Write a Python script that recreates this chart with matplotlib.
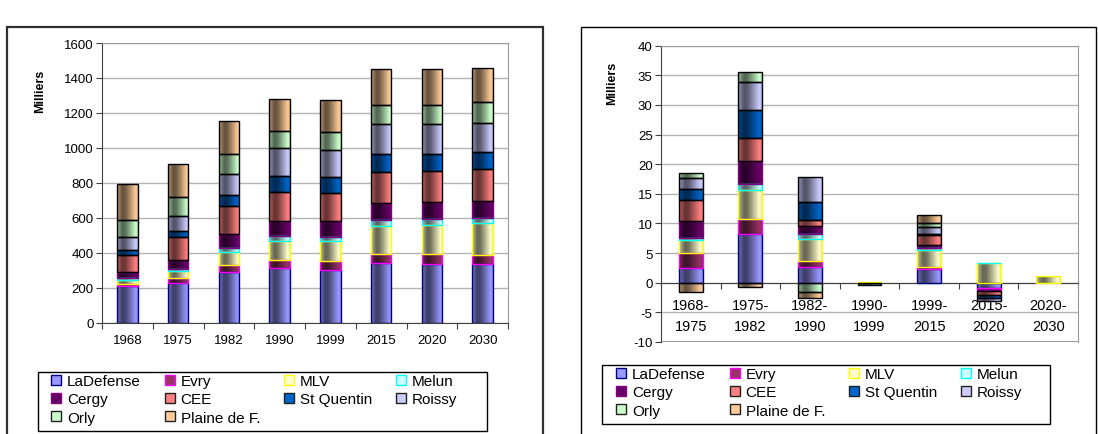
import matplotlib
matplotlib.use("Agg")
import matplotlib.pyplot as plt
import numpy as np
from matplotlib.patches import Patch, Rectangle
from matplotlib.colors import to_rgb

plt.rcParams['font.family'] = ['Liberation Sans', 'DejaVu Sans']
plt.rcParams['axes.unicode_minus'] = False

# Series (same order in both charts)
series_names = ['LaDefense', 'Evry', 'MLV', 'Melun', 'Cergy', 'CEE',
                'St Quentin', 'Roissy', 'Orly', 'Plaine de F.']
face_colors = ['#9999FF', '#993366', '#FFFFCC', '#CCFFFF', '#660066',
               '#FF8080', '#0066CC', '#CCCCFF', '#CCFFCC', '#FFCC99']
edge_colors = ['#000080', '#FF00FF', '#FFFF00', '#00FFFF', '#800080',
               'black', 'black', 'black', 'black', 'black']

# Left chart: employment by pole (thousands)
years = ['1968', '1975', '1982', '1990', '1999', '2015', '2020', '2030']
stock = {
    'LaDefense':    [212, 225, 288, 313, 303, 342, 334, 334],
    'Evry':         [7, 31, 44, 46, 52, 52, 57, 53],
    'MLV':          [27, 42, 75, 110, 115, 162, 170, 183],
    'Melun':        [8, 9, 21, 29, 21, 29, 31, 27],
    'Cergy':        [34, 54, 82, 82, 88, 99, 97, 97],
    'CEE':          [101, 131, 156, 170, 164, 177, 179, 183],
    'St Quentin':   [29, 31, 63, 90, 88, 103, 95, 101],
    'Roissy':       [74, 86, 124, 158, 158, 172, 172, 164],
    'Orly':         [96, 112, 111, 101, 101, 109, 109, 120],
    'Plaine de F.': [204, 189, 191, 182, 183, 206, 206, 195],
}

# Right chart: yearly change per period (thousands)
periods = ['1968-\n1975', '1975-\n1982', '1982-\n1990', '1990-\n1999',
           '1999-\n2015', '2015-\n2020', '2020-\n2030']
change = {
    'LaDefense':    [2.5, 8.2, 2.7, 0, 2.4, -0.95, 0],
    'Evry':         [2.6, 2.5, 1.0, 0, 0.2, -0.35, 0],
    'MLV':          [2.1, 4.9, 3.6, 0.05, 3.0, 3.3, 1.2],
    'Melun':        [0.4, 1.1, 1.0, 0, 0.2, 0.05, 0],
    'Cergy':        [2.9, 3.8, 1.2, 0, 0.6, -0.1, 0],
    'CEE':          [3.4, 4.0, 1.1, 0, 1.6, -0.65, 0],
    'St Quentin':   [2.0, 4.7, 3.0, -0.4, 0.3, -0.45, 0],
    'Roissy':       [1.7, 4.7, 4.2, 0, 1.1, -0.55, 0],
    'Orly':         [1.0, 1.6, -1.6, 0, 0.6, 0, 0],
    'Plaine de F.': [-1.6, -0.7, -1.0, 0, 1.5, 0, 0],
}

GRID = '#B4B4B4'
FRAME = '#9A9A9A'


def gradient_image(color):
    # Excel-like horizontal gradient: light edge, dark band, light band
    t = np.linspace(0, 1, 64)
    shade = np.interp(t, [0, 0.25, 0.4, 0.9, 1], [0.75, 0.4, 0.45, 1.0, 0.9])
    rgb = np.array(to_rgb(color))
    return (shade[:, None] * rgb[None, :])[None, :, :]


def stacked_bars(ax, data, width=0.4):
    x = np.arange(len(next(iter(data.values()))))
    pos = np.zeros(len(x))
    neg = np.zeros(len(x))
    for name, fc, ec in zip(series_names, face_colors, edge_colors):
        v = np.array(data[name], dtype=float)
        bottom = np.where(v >= 0, pos, neg)
        lw = np.where(v != 0, 1.0, 0.0)
        bars = ax.bar(x, v, width, bottom=bottom, color=fc, edgecolor='none',
                      linewidth=0, zorder=2)
        img = gradient_image(fc)
        for p, val in zip(bars.patches, v):
            if val == 0:
                continue
            x0, y0 = p.get_x(), p.get_y()
            im = ax.imshow(img, extent=[x0, x0 + p.get_width(), y0, y0 + p.get_height()],
                           aspect='auto', interpolation='bilinear', zorder=2.5)
            im.set_clip_path(p)
        ax.bar(x, v, width, bottom=bottom, fill=False, edgecolor=ec,
               linewidth=lw, zorder=3)
        pos = pos + np.where(v > 0, v, 0)
        neg = neg + np.where(v < 0, v, 0)
    return x


def style_axes(ax, n):
    ax.set_xlim(-0.5, n - 0.5)
    ax.set_xticks(np.arange(n + 1) - 0.5)
    ax.set_xticklabels([])
    ax.tick_params(axis='x', which='major', direction='out', length=4,
                   color='#404040')
    ax.tick_params(axis='y', direction='out', length=4, color='#404040',
                   labelsize=9.5, pad=2)
    ax.grid(axis='y', color=GRID, lw=1, zorder=0)
    ax.set_axisbelow(True)
    for s in ('top', 'right'):
        ax.spines[s].set_color(FRAME)
    for s in ('left', 'bottom'):
        ax.spines[s].set_color('#404040')


fig = plt.figure(figsize=(10.98, 4.35), dpi=100)

# outer chart frames
fig.add_artist(Rectangle((7 / 1098, -0.1), 536 / 1098, 1 - 28 / 435 + 0.1,
                         transform=fig.transFigure, fill=False, ec='#303030', lw=1.6))
fig.add_artist(Rectangle((581 / 1098, -0.1), 515 / 1098, 1 - 28 / 435 + 0.1,
                         transform=fig.transFigure, fill=False, ec='black', lw=1))

# ---- left chart ----
ax1 = fig.add_axes([102 / 1098, 1 - 323.7 / 435, 406 / 1098, 279.7 / 435])
x1 = stacked_bars(ax1, stock)
style_axes(ax1, len(years))
ax1.set_ylim(0, 1600)
ax1.set_yticks(np.arange(0, 1601, 200))
ax1.set_xticks(x1, minor=True)
ax1.set_xticklabels(years, minor=True, fontsize=9.5)
ax1.tick_params(axis='x', which='minor', length=0, pad=8)
ax1.text(-0.153, 0.83, 'Milliers', transform=ax1.transAxes, rotation=90,
         ha='center', va='center', fontsize=9, fontweight='bold')

# ---- right chart ----
ax2 = fig.add_axes([661 / 1098, 1 - 343 / 435, 417 / 1098, 296.3 / 435])
x2 = stacked_bars(ax2, change)
style_axes(ax2, len(periods))
ax2.set_ylim(-10, 40)
ax2.set_yticks(np.arange(-10, 41, 5))
ax2.spines['bottom'].set_position(('data', 0))
ax2.axhline(-10, color=FRAME, lw=1.5, zorder=1)
ax2.set_xticks(x2, minor=True)
ax2.set_xticklabels(periods, minor=True, fontsize=10.5, linespacing=1.6)
ax2.tick_params(axis='x', which='minor', length=0, pad=11)
ax2.text(-0.1175, 0.875, 'Milliers', transform=ax2.transAxes, rotation=90,
         ha='center', va='center', fontsize=9, fontweight='bold')

# ---- legends (filled row by row, like Excel) ----
handles = [Patch(facecolor=fc, edgecolor=ec if ec != 'black' else '#202020', lw=1)
           for fc, ec in zip(face_colors, edge_colors)]
order = [0, 4, 8, 1, 5, 9, 2, 6, 3, 7]
for (bx0, by0, bx1, by1), (hx, hy) in [((38, 373, 487, 432), (51, 375)),
                                       ((602, 366, 1050, 425), (616, 368))]:
    fig.add_artist(Rectangle((bx0 / 1098, 1 - by1 / 435), (bx1 - bx0) / 1098,
                             (by1 - by0) / 435, transform=fig.transFigure,
                             fill=False, ec='black', lw=1))
    fig.legend([handles[i] for i in order], [series_names[i] for i in order],
               ncol=4, loc='upper left', bbox_to_anchor=(hx / 1098, 1 - hy / 435),
               fontsize=11, frameon=False, handlelength=0.65, handleheight=0.65,
               handletextpad=0.4, labelspacing=0.28, columnspacing=1.55,
               borderpad=0, borderaxespad=0)

fig.savefig('out.png', dpi=100)
